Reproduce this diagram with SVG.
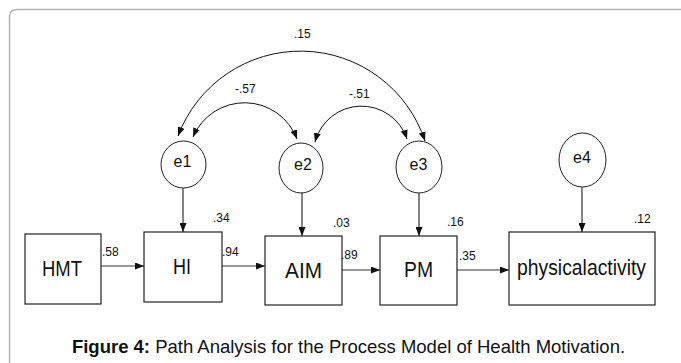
<svg xmlns="http://www.w3.org/2000/svg" width="681" height="363" viewBox="0 0 681 363">
<style>
.box{fill:#fff;stroke:#222;stroke-width:1.2}
.ell{fill:#fff;stroke:#222;stroke-width:1}
.lbl{font-family:"Liberation Sans",Arial,sans-serif;font-size:22px;fill:#111;text-anchor:middle}
.elbl{font-family:"Liberation Sans",Arial,sans-serif;font-size:16px;fill:#111;text-anchor:middle}
.num{font-family:"Liberation Sans",Arial,sans-serif;font-size:12px;fill:#111}
.cap{font-family:"Liberation Sans",Arial,sans-serif;font-size:18.5px;fill:#111;text-anchor:middle}
.ln{fill:none;stroke:#333;stroke-width:1.2;marker-end:url(#ah)}
.arc{fill:none;stroke:#111;stroke-width:1;marker-start:url(#ah);marker-end:url(#ah)}
</style>
<defs>
<marker id="ah" markerUnits="userSpaceOnUse" markerWidth="9" markerHeight="7" viewBox="0 0 9 7" refX="9" refY="3.5" orient="auto-start-reverse">
<path d="M0,0 L9,3.5 L0,7 z" fill="#111"/>
</marker>
</defs>
<rect x="0" y="0" width="681" height="363" fill="#fff"/>
<path d="M9.5,372 V17 Q9.5,9.5 17,9.5 H690" fill="none" stroke="#b4b4b4" stroke-width="1.5"/>

<g id="connectors">
<path class="arc" d="M178,136 A131,131 0 0 1 425,141"/>
<path class="arc" d="M193,137 A56,56 0 0 1 297,139"/>
<path class="arc" d="M315,142 A48,48 0 0 1 407,139"/>
<path class="ln" d="M183,188 V232"/>
<path class="ln" d="M302,193 V236"/>
<path class="ln" d="M419,193 V236"/>
<path class="ln" d="M582,187 V232"/>
<path class="ln" d="M101,266 H144"/>
<path class="ln" d="M222,266 H265"/>
<path class="ln" d="M342,270 H380"/>
<path class="ln" d="M457,270 H509"/>
<text class="num" x="294" y="38">.15</text>
<text class="num" x="235" y="93">-.57</text>
<text class="num" x="349" y="98">-.51</text>
<text class="num" x="102" y="256">.58</text>
<text class="num" x="222" y="256">.94</text>
<text class="num" x="341" y="259">.89</text>
<text class="num" x="459" y="260">.35</text>
</g>

<g id="HMT">
<rect class="box" x="25" y="234" width="76" height="70"/>
<text class="lbl" x="62" y="276" textLength="40" lengthAdjust="spacingAndGlyphs">HMT</text>
</g>
<g id="HI">
<rect class="box" x="144" y="232" width="78" height="70"/>
<text class="lbl" x="182" y="274" textLength="18" lengthAdjust="spacingAndGlyphs">HI</text>
<text class="num" x="213" y="222">.34</text>
</g>
<g id="AIM">
<rect class="box" x="265" y="236" width="77" height="69"/>
<text class="lbl" x="303.5" y="278" textLength="37" lengthAdjust="spacingAndGlyphs">AIM</text>
<text class="num" x="333" y="227">.03</text>
</g>
<g id="PM">
<rect class="box" x="380" y="236" width="77" height="69"/>
<text class="lbl" x="418.5" y="277" textLength="29" lengthAdjust="spacingAndGlyphs">PM</text>
<text class="num" x="447" y="226">.16</text>
</g>
<g id="physicalactivity">
<rect class="box" x="509" y="232" width="146" height="73"/>
<text class="lbl" x="581.5" y="275" textLength="129" lengthAdjust="spacingAndGlyphs">physicalactivity</text>
<text class="num" x="634" y="223">.12</text>
</g>
<g id="e1">
<ellipse class="ell" cx="183.5" cy="164.5" rx="22.5" ry="23.5"/>
<text class="elbl" x="182.5" y="167">e1</text>
</g>
<g id="e2">
<ellipse class="ell" cx="301" cy="168" rx="22" ry="25"/>
<text class="elbl" x="303" y="170">e2</text>
</g>
<g id="e3">
<ellipse class="ell" cx="419" cy="167" rx="23" ry="26"/>
<text class="elbl" x="418.5" y="170">e3</text>
</g>
<g id="e4">
<ellipse class="ell" cx="582.5" cy="160" rx="23.5" ry="27"/>
<text class="elbl" x="582" y="163">e4</text>
</g>

<text class="cap" x="348.5" y="353"><tspan font-weight="bold">Figure 4:</tspan> Path Analysis for the Process Model of Health Motivation.</text>
</svg>
